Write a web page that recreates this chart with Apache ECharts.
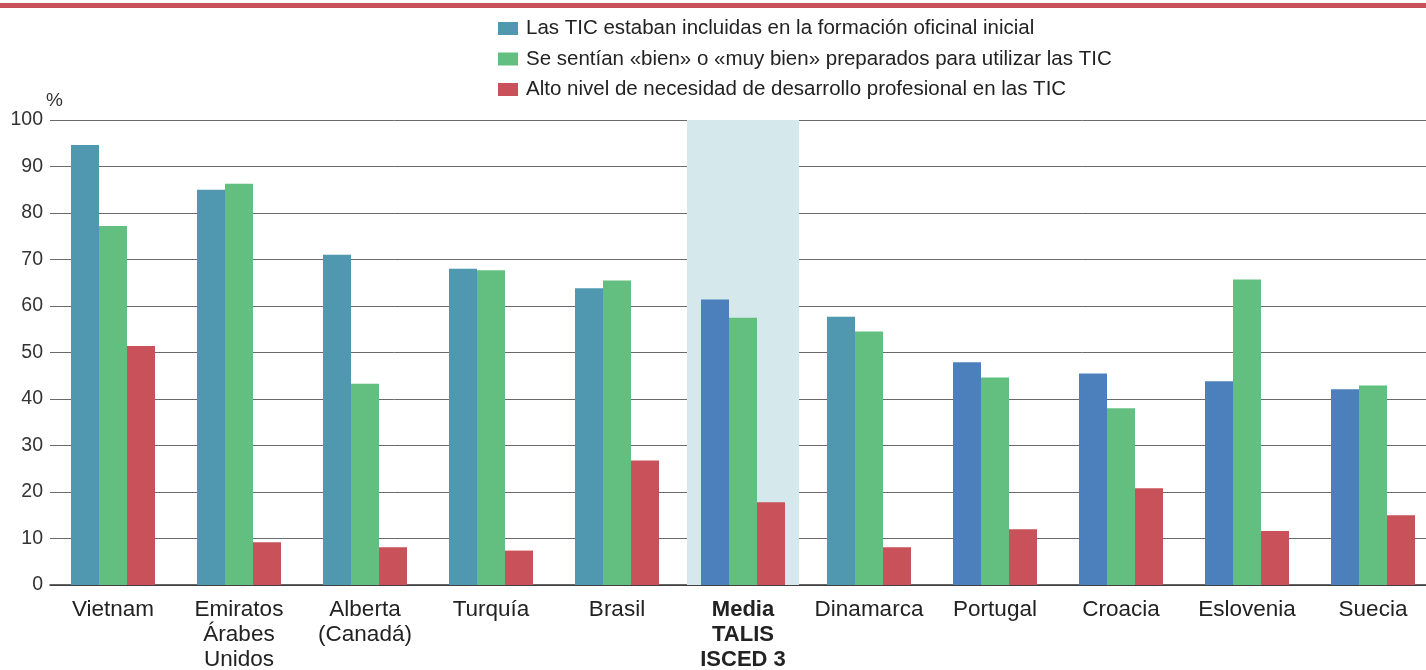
<!DOCTYPE html>
<html>
<head>
<meta charset="utf-8">
<script src="https://cdn.jsdelivr.net/npm/echarts@6/dist/echarts.min.js"></script>
<style>
html,body{margin:0;padding:0;background:#fff;}
#chart{width:1426px;height:670px;}
</style>
</head>
<body>
<div id="chart"></div>
<script>
const categories = ['Vietnam', 'Emiratos\nÁrabes\nUnidos', 'Alberta\n(Canadá)', 'Turquía', 'Brasil', 'Media\nTALIS\nISCED 3', 'Dinamarca', 'Portugal', 'Croacia', 'Eslovenia', 'Suecia'];
const seriesNames = [
  'Las TIC estaban incluidas en la formación oficinal inicial',
  'Se sentían «bien» o «muy bien» preparados para utilizar las TIC',
  'Alto nivel de necesidad de desarrollo profesional en las TIC'
];
const ticIncluded = [94.6, 85.0, 71.0, 68.0, 63.8, 61.4, 57.7, 47.9, 45.5, 43.8, 42.1];
const wellPrepared = [77.2, 86.3, 43.3, 67.7, 65.5, 57.5, 54.5, 44.6, 38.0, 65.7, 42.9];
const highNeed = [51.4, 9.2, 8.1, 7.4, 26.8, 17.8, 8.1, 12.0, 20.8, 11.6, 15.0];
const averageCategory = 'Media\nTALIS\nISCED 3';
const highlightValue = 100;
const yTicks = [0, 10, 20, 30, 40, 50, 60, 70, 80, 90, 100];

// styling
const TEAL = '#5098B0', BLUE = '#4C80BD', GREEN = '#63BF7F', RED = '#C8515A';
const altBlueStart = categories.indexOf(averageCategory);
const dinamarcaIdx = categories.indexOf('Dinamarca');

const chart = echarts.init(document.getElementById('chart'), null, {renderer: 'canvas'});
const font = 'Liberation Sans, Arial, Helvetica, sans-serif';

const blueData = ticIncluded.map((v, i) => ({
  value: v,
  itemStyle: {color: (i >= altBlueStart && i !== dinamarcaIdx) ? BLUE : TEAL}
}));
const bandData = categories.map(c => c === averageCategory ? highlightValue : null);

chart.setOption({
  animation: false,
  textStyle: {fontFamily: font},
  graphic: [{
    type: 'rect', left: 0, top: 3, shape: {width: 1426, height: 5},
    style: {fill: '#C8505A'}, silent: true
  }],
  legend: {
    orient: 'vertical',
    left: 493, top: 13,
    itemWidth: 20, itemHeight: 13, itemGap: 9.5,
    icon: 'rect',
    textStyle: {fontSize: 20.5, color: '#222', fontFamily: font, padding: [0,0,0,3]},
    data: seriesNames
  },
  grid: {left: 50, top: 120, width: 1386, height: 465, containLabel: false, outerBoundsMode: 'none'},
  xAxis: [{
    type: 'category', data: categories,
    axisLine: {lineStyle: {color: '#333', width: 1.5}},
    axisTick: {show: false},
    axisLabel: {
      interval: 0, margin: 12, fontSize: 22.5, lineHeight: 25, color: '#222', fontFamily: font,
      formatter: v => v === averageCategory ? '{b|' + v.split('\n').join('}\n{b|') + '}' : v,
      rich: {b: {fontWeight: 'bold', fontSize: 22, lineHeight: 25, color: '#222', fontFamily: font}}
    }
  }, {
    type: 'category', data: categories, show: false
  }],
  yAxis: {
    type: 'value', min: 0, max: 100, interval: 10,
    name: '%', nameLocation: 'end', nameGap: 8,
    nameTextStyle: {fontSize: 19, color: '#333', align: 'left', padding: [0,0,0,-4], fontFamily: font},
    axisLine: {show: false}, axisTick: {show: false},
    axisLabel: {fontSize: 19.5, color: '#333', margin: 7, fontFamily: font,
      formatter: v => yTicks.includes(v) ? String(v) : ''},
    splitLine: {lineStyle: {color: '#6a6a6a', width: 1}}
  },
  series: [
    {
      name: 'band', type: 'bar', xAxisIndex: 1, data: bandData,
      barWidth: 112, itemStyle: {color: '#D5E8EC'}, silent: true, z: 0
    },
    {name: seriesNames[0], type: 'bar', data: blueData, barWidth: 28, barGap: '0%', itemStyle: {color: TEAL}, z: 3},
    {name: seriesNames[1], type: 'bar', data: wellPrepared, barWidth: 28, barGap: '0%', itemStyle: {color: GREEN}, z: 3},
    {name: seriesNames[2], type: 'bar', data: highNeed, barWidth: 28, barGap: '0%', itemStyle: {color: RED}, z: 3}
  ]
});
</script>
</body>
</html>
